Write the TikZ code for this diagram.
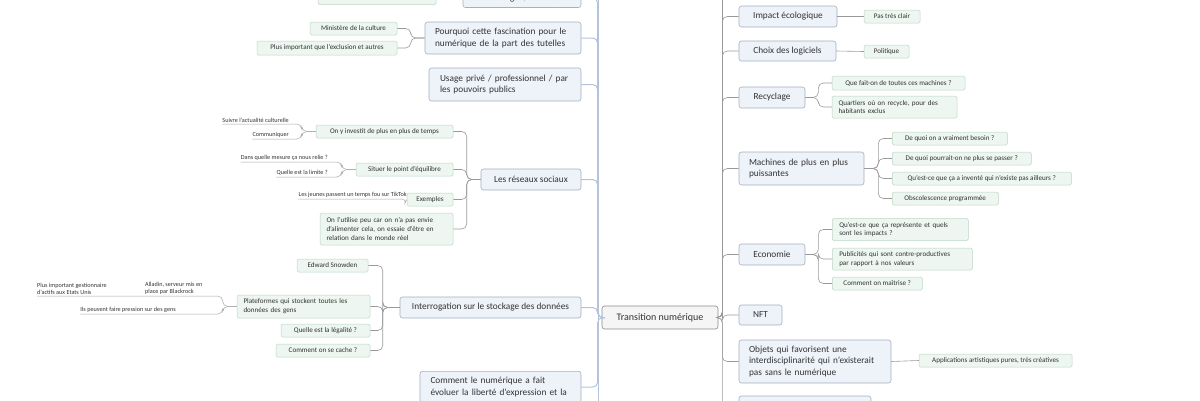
\documentclass[tikz,border=0pt]{standalone}
\usepackage{fontspec}
\setmainfont{Carlito}
\definecolor{bfill}{HTML}{EEF2F9}
\definecolor{bdraw}{HTML}{A4AFC0}
\definecolor{gfill}{HTML}{EDF6F0}
\definecolor{gdraw}{HTML}{BCD6C3}
\definecolor{ltrunk}{HTML}{B3C3DA}
\begin{document}
\begin{tikzpicture}[x=1pt,y=-1pt,
  every node/.style={text=black!80, inner sep=0pt},
  bn/.style={draw=bdraw, fill=bfill, rounded corners=2.5pt, font=\fontsize{9.3}{11.5}\selectfont, line width=0.6pt},
  gn/.style={draw=gdraw, fill=gfill, rounded corners=1.5pt, font=\fontsize{7.1}{8.8}\selectfont, line width=0.5pt},
  pn/.style={font=\fontsize{6.2}{7.2}\selectfont, anchor=south east, inner ysep=1.5pt},
  cn/.style={draw=black!45, fill=black!4, rounded corners=2.5pt, font=\fontsize{10}{12}\selectfont, line width=0.6pt},
  ln/.style={draw=black!40, line width=0.6pt, rounded corners=5pt},
  lt/.style={draw=ltrunk, line width=1pt, rounded corners=5pt},
  un/.style={draw=black!35, line width=0.5pt, rounded corners=5pt}]
\useasboundingbox (0,0) rectangle (1200,400);
\clip (0,0) rectangle (1200,400);
% center
\node[cn, minimum width=116pt, minimum height=23pt] (c) at (660,317.5) {Transition numérique};
% left level 1
\node[bn, minimum width=118pt, minimum height=19pt] (t1) at (522,-2) {Télécharger / consulter};
\node[bn, minimum width=156pt, minimum height=32pt, text width=136pt, align=left] (p1) at (503,38) {Pourquoi cette fascination pour le\\numérique de la part des tutelles};
\node[bn, minimum width=152pt, minimum height=33pt, text width=130pt, align=left] (u1) at (505,84.5) {Usage privé / professionnel / par\\les pouvoirs publics};
\node[bn, minimum width=100pt, minimum height=21pt] (r1) at (531,179.5) {Les réseaux sociaux};
\node[bn, minimum width=181pt, minimum height=21pt] (s1) at (490.5,307.5) {Interrogation sur le stockage des données};
\node[bn, anchor=north, minimum width=161pt, text width=140pt, inner ysep=6pt, align=left] (c1) at (500.5,371) {Comment le numérique a fait\\évoluer la liberté d'expression et la\\};
\coordinate (ltop) at (598,-20);
\coordinate (lbot) at (598,420);
\foreach \n in {t1,p1,u1,r1,s1,c1} \draw[lt] (c.west) -- ++(-4,0) |- (\n.east);
\draw[lt] (598,317.5) -- (ltop);
\draw[lt] (598,317.5) -- (lbot);
% left green
\node[gn, minimum width=118pt, minimum height=11pt] (tg) at (377,-1) {};
\node[gn, minimum width=87pt, minimum height=13pt] (g1) at (353.5,28.5) {Ministère de la culture};
\node[gn, minimum width=140pt, minimum height=14pt] (g2) at (327,48) {Plus important que l'exclusion et autres};
\node[gn, minimum width=137pt, minimum height=13pt] (g3) at (384.5,131.5) {On y investit de plus en plus de temps};
\node[gn, minimum width=97pt, minimum height=13pt] (g4) at (404.5,169.5) {Situer le point d'équilibre};
\node[gn, minimum width=46pt, minimum height=13pt] (g5) at (430,199.5) {Exemples};
\node[gn, minimum width=133pt, minimum height=32pt, text width=120pt, align=left] (g6) at (386.5,229) {On l'utilise peu car on n'a pas envie\\d'alimenter cela, on essaie d'être en\\relation dans le monde réel};
\node[gn, minimum width=71pt, minimum height=13pt] (g7) at (332.5,265.5) {Edward Snowden};
\node[gn, minimum width=133pt, minimum height=23pt, text width=120pt, align=left] (g8) at (303.5,306.5) {Plateformes qui stockent toutes les\\données des gens};
\node[gn, minimum width=89pt, minimum height=13pt] (g9) at (325.5,330.5) {Quelle est la légalité ?};
\node[gn, minimum width=94pt, minimum height=13pt] (g10) at (323,350.5) {Comment on se cache ?};
\foreach \n in {g1,g2} \draw[ln] (p1.west) -- ++(-14,0) |- (\n.east);
\foreach \n in {g3,g4,g5,g6} \draw[ln] (r1.west) -- ++(-14,0) |- (\n.east);
\foreach \n in {g7,g8,g9,g10} \draw[ln] (s1.west) -- ++(-17,0) |- (\n.east);
% plain texts
\node[pn] (a1) at (289,124) {Suivre l'actualité culturelle};
\node[pn] (a2) at (289,139) {Communiquer};
\node[pn] (a3) at (328,162) {Dans quelle mesure ça nous relie ?};
\node[pn] (a4) at (328,177) {Quelle est la limite ?};
\node[pn] (a5) at (407,199) {Les jeunes passent un temps fou sur TikTok};
\node[pn, anchor=south west, align=left] (a6) at (37,296) {Plus important gestionnaire\\d'actifs aux Etats Unis};
\node[pn, anchor=south west, align=left] (a7) at (145,296) {Alladin, serveur mis en\\place par Blackrock};
\node[pn] (a8) at (176,314) {Ils peuvent faire pression sur des gens};
\foreach \n in {a1,a2} \draw[un] (g3.west) -- ++(-14,0) |- (\n.south east) -- (\n.south west);
\foreach \n in {a3,a4} \draw[un] (g4.west) -- ++(-14,0) |- (\n.south east) -- (\n.south west);
\draw[un] (g5.west) -- (a5.south east) -- (a5.south west);
\draw[un] (g8.west) -- ++(-14,0) |- (a7.south east) -- (a6.south west);
\draw[un] (g8.west) -- ++(-14,0) |- (a8.south east) -- (a8.south west);
% right level 1
\node[bn, minimum width=98pt, minimum height=21pt] (i1) at (788,16.5) {Impact écologique};
\node[bn, minimum width=97pt, minimum height=20pt] (i2) at (787.5,51) {Choix des logiciels};
\node[bn, minimum width=66pt, minimum height=21pt] (i3) at (772,97.5) {Recyclage};
\node[bn, minimum width=125pt, minimum height=33pt, text width=105pt, align=left] (i4) at (801.5,168.5) {Machines de plus en plus\\puissantes};
\node[bn, minimum width=66pt, minimum height=21pt] (i5) at (772,254.5) {Economie};
\node[bn, minimum width=43pt, minimum height=20pt] (i6) at (760.5,315) {NFT};
\node[bn, minimum width=152pt, minimum height=43pt, text width=132pt, align=left] (i7) at (815,361.5) {Objets qui favorisent une\\interdisciplinarité qui n'existerait\\pas sans le numérique};
\node[bn, minimum width=132pt, minimum height=28pt] (i8) at (805,410) {};
\coordinate (rtop) at (722,-20);
\foreach \n in {i1,i2,i3,i4,i5,i6,i7,i8} \draw[ln] (c.east) -- ++(4,0) |- (\n.west);
\draw[ln] (722,317.5) -- (rtop);
% right green
\node[gn, minimum width=56pt, minimum height=13pt] (h1) at (892,16.5) {Pas très clair};
\node[gn, minimum width=45pt, minimum height=13pt] (h2) at (886.5,51.5) {Politique};
\node[gn, minimum width=133pt, minimum height=14pt] (h3) at (898.5,83) {Que fait-on de toutes ces machines ?};
\node[gn, minimum width=125pt, minimum height=22pt, text width=112pt, align=left] (h4) at (894.5,107) {Quartiers où on recycle, pour des\\habitants exclus};
\node[gn, anchor=west, minimum width=115pt, minimum height=13pt] (h5) at (892,138.5) {De quoi on a vraiment besoin ?};
\node[gn, anchor=west, minimum width=139pt, minimum height=13pt] (h6) at (892,158.5) {De quoi pourrait-on ne plus se passer ?};
\node[gn, anchor=west, minimum width=179pt, minimum height=13pt] (h7) at (892,178.5) {Qu'est-ce que ça a inventé qui n'existe pas ailleurs ?};
\node[gn, anchor=west, minimum width=106pt, minimum height=13pt] (h8) at (892,198.5) {Obscolescence programmée};
\node[gn, anchor=west, minimum width=136pt, minimum height=22pt, text width=122pt, align=left] (h9) at (832,229.5) {Qu'est-ce que ça représente et quels\\sont les impacts ?};
\node[gn, anchor=west, minimum width=140pt, minimum height=22pt, text width=126pt, align=left] (h10) at (832,259) {Publicités qui sont contre-productives\\par rapport à nos valeurs};
\node[gn, anchor=west, minimum width=90pt, minimum height=13pt] (h11) at (832,283.5) {Comment on maîtrise ?};
\node[gn, minimum width=153pt, minimum height=13pt] (h12) at (995.5,360.5) {Applications artistiques pures, très créatives};
\draw[ln] (i1.east) -- (h1.west);
\draw[ln] (i2.east) -- (h2.west);
\foreach \n in {h3,h4} \draw[ln] (i3.east) -- ++(13,0) |- (\n.west);
\foreach \n in {h5,h6,h7,h8} \draw[ln] (i4.east) -- ++(14,0) |- (\n.west);
\foreach \n in {h9,h10,h11} \draw[ln] (i5.east) -- ++(13,0) |- (\n.west);
\draw[ln] (i7.east) -- (h12.west);
\end{tikzpicture}
\end{document}
